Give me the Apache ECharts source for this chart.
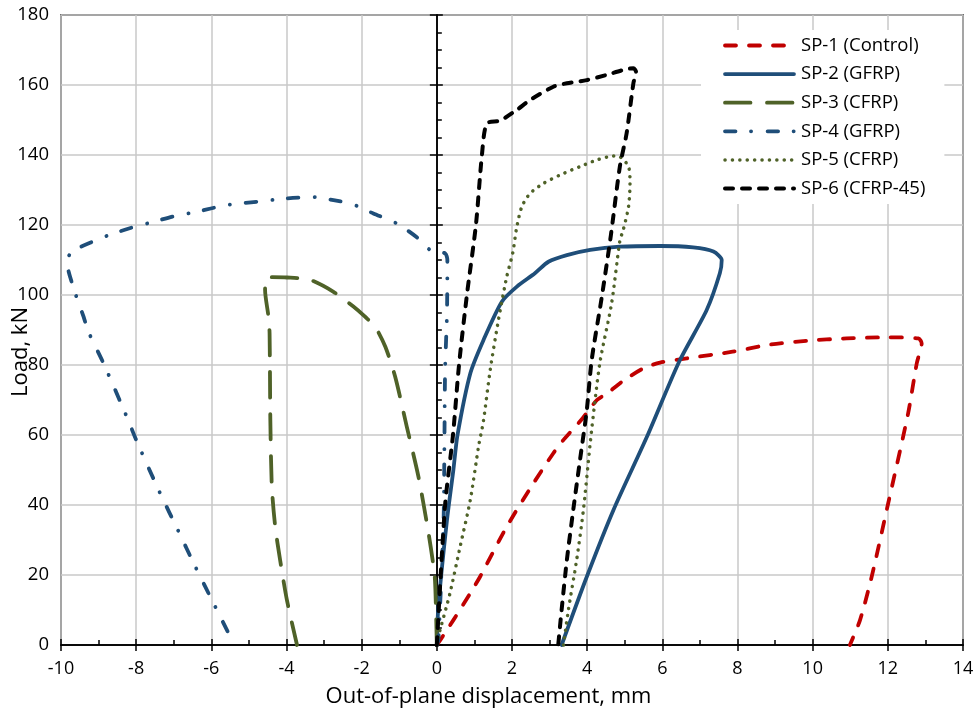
<!DOCTYPE html>
<html>
<head>
<meta charset="utf-8">
<script src="https://cdn.jsdelivr.net/npm/echarts@6/dist/echarts.min.js"></script>
<style>
  html, body { margin: 0; padding: 0; background: #fff; }
  #chart { width: 977px; height: 720px; }
</style>
</head>
<body>
<div id="chart"></div>
<script>
// Load–displacement curves, [displacement (mm), load (kN)]
const sp1 = [[0,0],[0.09,1.4],[0.44,7.1],[0.89,14.8],[1.15,19.5],[1.86,33.8],[2.57,46.2],[3.10,54.8],[3.37,58.6],[3.88,64.8],[4.26,70],[4.52,71.8],[4.96,75.5],[5.49,79],[5.94,80.7],[6.65,81.9],[7.87,83.8],[8.78,85.7],[9.84,86.9],[10.9,87.6],[11.97,87.9],[12.81,87.6],[12.9,86.2],[12.77,80.5],[12.54,66.2],[12.01,40.5],[11.57,19.5],[11.26,7.1],[10.99,0]];
const sp2 = [[0,0],[0.04,10.9],[0.27,35.7],[0.44,50],[0.55,60],[0.89,77.6],[1.24,87.1],[1.73,98.1],[2.13,102.4],[2.61,106.2],[2.97,109.5],[3.46,111.4],[4.08,112.9],[4.87,113.8],[5.94,114],[6.82,113.6],[7.36,112.4],[7.58,110],[7.53,106.2],[7.18,95.7],[6.45,81],[5.59,59.5],[4.70,38.6],[3.99,19.5],[3.32,0]];
const sp3 = [[0,0],[-0.03,13],[-0.06,20],[-0.22,31.9],[-0.49,48.1],[-0.80,62.4],[-1.11,76.7],[-1.37,85.2],[-1.64,90.9],[-1.91,93.8],[-2.22,96.7],[-2.75,100.9],[-3.37,104.3],[-3.99,105],[-4.52,105.1],[-4.57,101.4],[-4.48,93.8],[-4.45,89],[-4.43,64.3],[-4.39,45.2],[-4.30,33.8],[-4.17,24.3],[-3.99,12.9],[-3.72,0]];
const sp4 = [[0,0],[0.04,1.4],[0.09,12],[0.18,35.7],[0.2,54.8],[0.22,78.6],[0.27,94.8],[0.28,110],[0.22,111.9],[-0.18,112.9],[-0.44,115.7],[-0.8,118.6],[-1.15,120.9],[-1.69,123.3],[-2.26,126],[-2.75,127.1],[-3.32,128],[-3.99,127.6],[-4.74,126.7],[-5.59,125.7],[-6.38,123.8],[-6.96,122.6],[-7.54,120.9],[-8.04,119.5],[-8.6,117.6],[-9.13,115.4],[-9.71,112.4],[-9.84,109.5],[-9.62,100.5],[-9.4,93.8],[-9.27,89.5],[-8.87,80.5],[-8.25,65.2],[-7.98,58.1],[-7.36,43.3],[-6.87,32.4],[-6.45,22.9],[-5.94,11.9],[-5.45,1.4]];
const sp5 = [[0,0],[0.04,2.4],[0.35,14.8],[0.62,28.1],[0.89,41.4],[1.11,56.7],[1.24,64],[1.42,78.6],[1.64,92.9],[1.86,105.2],[2.02,112],[2.12,119],[2.26,125.2],[2.48,129],[2.84,131.9],[3.28,134.3],[3.81,136.7],[4.26,138.6],[4.70,139.7],[4.87,139.5],[5.10,136.7],[5.14,131.9],[5.10,125.2],[4.96,118.6],[4.87,115.5],[4.65,97.6],[4.35,81.4],[4.21,70],[4.08,57.6],[3.90,38.6],[3.72,24.3],[3.50,10],[3.37,0]];
const sp6 = [[0,0],[0.22,40],[0.43,60],[0.59,80],[0.80,100],[1.04,120],[1.2,140],[1.33,149],[1.68,149.8],[2.13,152.9],[2.48,155.7],[3.10,159.5],[3.46,160.5],[3.99,161.4],[4.52,162.9],[4.96,164.3],[5.23,164.8],[5.30,163.8],[5.23,160.5],[5.05,146.2],[4.87,136.7],[4.63,117],[4.39,99.5],[4.12,81.4],[3.99,67.1],[3.81,52.9],[3.63,38.6],[3.46,24.3],[3.32,10],[3.23,0]];

const seriesNames = ['SP-1 (Control)', 'SP-2 (GFRP)', 'SP-3 (CFRP)', 'SP-4 (GFRP)', 'SP-5 (CFRP)', 'SP-6 (CFRP-45)'];
const xTicks = { min: -10, max: 14, step: 2 };
const yTicks = { min: 0, max: 180, step: 20 };

const FONT = 'Open Sans';
const GRID_GREY = '#c8c8c8';

// round caps lengthen each dash by the line width, so dash/gap values are compensated
const lineDefs = [
  { data: sp1, color: '#C00000', width: 3.8, type: [11, 13] },
  { data: sp2, color: '#1F4E79', width: 3.8, type: 'solid' },
  { data: sp3, color: '#4F6228', width: 3.8, type: [25.5, 16.5] },
  { data: sp4, color: '#1F4E79', width: 3.8, type: [10.5, 15.5, 0.1, 16.5] },
  { data: sp5, color: '#4F6228', width: 3.5, type: [0.1, 7.3] },
  { data: sp6, color: '#000000', width: 4,   type: [8, 9] }
];

const styleOf = d => ({ color: d.color, width: d.width, type: d.type, cap: 'round', join: 'round' });

const chart = echarts.init(document.getElementById('chart'), null, { renderer: 'canvas' });

const baseX = {
  type: 'value', min: xTicks.min, max: xTicks.max, interval: xTicks.step, position: 'bottom'
};
const baseY = {
  type: 'value', min: yTicks.min, max: yTicks.max, interval: yTicks.step
};

chart.setOption({
  animation: false,
  backgroundColor: '#fff',
  grid: {
    left: 61, right: 14, top: 15, bottom: 75,
    show: true, borderColor: '#000', borderWidth: 1.5, backgroundColor: 'transparent'
  },
  legend: {
    orient: 'vertical',
    left: 701, top: 30,
    padding: [6, 19, 6, 22],
    backgroundColor: '#fff',
    itemWidth: 69, itemHeight: 18, itemGap: 9.6,
    itemStyle: { opacity: 0 },
    textStyle: { fontFamily: FONT, fontSize: 18.5, color: '#000', padding: [0, 0, 0, 2] },
    data: seriesNames.map((n, i) => ({ name: n, lineStyle: styleOf(lineDefs[i]) }))
  },
  xAxis: [
    Object.assign({}, baseX, {
      axisLine: { onZero: false, lineStyle: { color: '#000', width: 1.5 } },
      axisTick: { show: true, inside: false, length: 6, lineStyle: { color: '#000', width: 1.5 } },
      axisLabel: { fontFamily: FONT, fontSize: 18, color: '#000', margin: 15 },
      splitLine: { show: true, lineStyle: { color: GRID_GREY, width: 1.5 } }
    }),
    Object.assign({}, baseX, {
      axisLine: { onZero: false, lineStyle: { color: '#000', width: 1.5 } },
      axisTick: { show: true, inside: true, length: 6, lineStyle: { color: '#000', width: 1.5 } },
      minorTick: { show: true, splitNumber: 2, length: 5, lineStyle: { color: '#000', width: 1.5 } },
      axisLabel: { show: false },
      splitLine: { show: false }
    })
  ],
  yAxis: [
    Object.assign({}, baseY, {
      axisLine: { onZero: true, onZeroAxisIndex: 0, lineStyle: { color: '#000', width: 1.5 } },
      axisTick: { show: true, inside: false, length: 7, lineStyle: { color: '#000', width: 1.5 } },
      axisLabel: { fontFamily: FONT, fontSize: 18.5, color: '#000', margin: 12 },
      splitLine: { show: true, lineStyle: { color: GRID_GREY, width: 1.5 } }
    }),
    Object.assign({}, baseY, {
      position: 'left',
      axisLine: { onZero: true, onZeroAxisIndex: 0, lineStyle: { color: '#000', width: 1.5 } },
      axisTick: { show: true, inside: true, length: 6, lineStyle: { color: '#000', width: 1.5 } },
      minorTick: { show: true, splitNumber: 4, length: 5, lineStyle: { color: '#000', width: 1.5 } },
      axisLabel: { show: false },
      splitLine: { show: false }
    })
  ],
  graphic: [
    {
      type: 'text', left: 'center', top: 686,
      x: 23,
      style: { text: 'Out-of-plane displacement, mm', font: '22px "Open Sans"', fill: '#000' }
    },
    {
      type: 'text', x: 21, y: 352, rotation: Math.PI / 2,
      style: { text: 'Load, kN', font: '22px "Open Sans"', fill: '#000', align: 'center', verticalAlign: 'middle' }
    }
  ],
  series: lineDefs.map((d, i) => ({
    name: seriesNames[i],
    type: 'line',
    xAxisIndex: 0,
    yAxisIndex: 0,
    data: d.data,
    showSymbol: false,
    symbol: 'none',
    smooth: 0.25,
    clip: false,
    lineStyle: styleOf(d),
    itemStyle: { color: d.color },
    z: 3 + i
  }))
});
</script>
</body>
</html>
